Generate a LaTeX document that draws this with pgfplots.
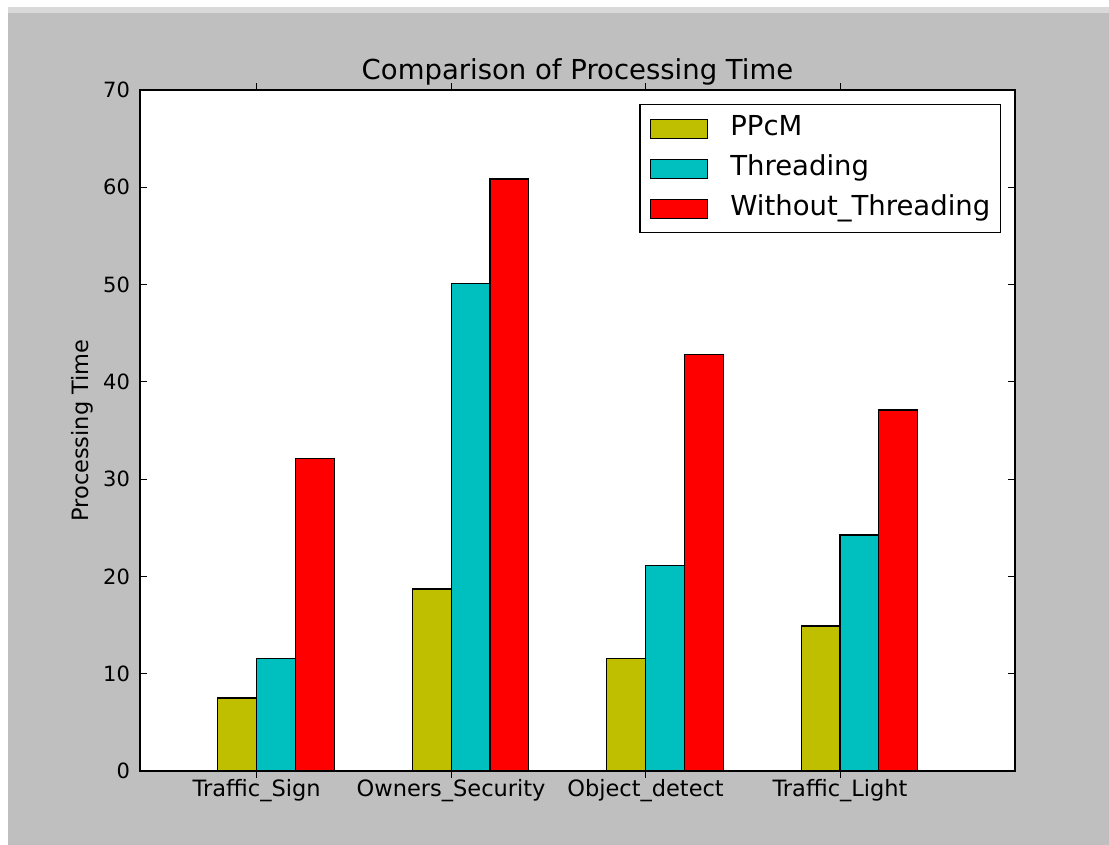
\documentclass[border=0pt]{standalone}
\usepackage{pgfplots}
\pgfplotsset{compat=1.18}
\usepackage{fontspec}
\setmainfont{DejaVu Sans}
\definecolor{mplY}{RGB}{191,191,0}
\definecolor{mplC}{RGB}{0,191,191}
\definecolor{mplR}{RGB}{255,0,0}
\definecolor{figbg}{RGB}{191,191,191}
\definecolor{figtop}{RGB}{217,217,217}
\pgfplotsset{
  mylegend/.style={legend image code/.code={%
    \draw[##1, line width=0.6pt] (0pt,-4.75pt) rectangle (28.5pt,4.75pt);
    \path (39.5pt,0pt);}},
}
\begin{document}
\begin{tikzpicture}
\path[use as bounding box] (0,0) rectangle (554.5pt,422.5pt);
\fill[white] (0,0) rectangle (554.5pt,422.5pt);
\fill[figtop] (4pt,416pt) rectangle (554.5pt,419pt);
\fill[figbg] (4pt,0) rectangle (554.5pt,416pt);
\begin{axis}[
  at={(70pt,37pt)}, anchor=south west,
  scale only axis, width=437.5pt, height=340.5pt,
  xmin=-0.4, xmax=4.1, ymin=0, ymax=70,
  axis background/.style={fill=white},
  axis line style={black, line width=1pt},
  ytick={0,10,20,30,40,50,60,70},
  xtick={0.2,1.2,2.2,3.2},
  xticklabels={Traffic\_Sign, Owners\_Security, Object\_detect, Traffic\_Light},
  tick align=inside, major tick length=3.5pt,
  tick style={black, line width=0.5pt},
  /pgf/number format/assume math mode=true,
  yticklabel style={font=\fontsize{10.5pt}{12pt}\selectfont, xshift=-1.5pt},
  xticklabel style={font=\fontsize{11.25pt}{13pt}\selectfont, anchor=base, yshift=-9.5pt},
  ylabel={Processing Time},
  ylabel style={font=\fontsize{11.25pt}{13pt}\selectfont, at={(axis description cs:-0.059,0.5)}, anchor=base},
  every axis title shift=0pt,
  title={Comparison of Processing Time},
  title style={font=\fontsize{13.75pt}{16pt}\selectfont, at={(axis description cs:0.5,1)}, anchor=base, yshift=5pt},
  legend cell align=left,
  legend style={at={(axis description cs:1,1)}, anchor=north east, xshift=-7pt, yshift=-7pt,
    draw=black, line width=0.75pt, fill=white,
    font=\fontsize{13.75pt}{16pt}\selectfont,
    inner xsep=5pt, inner ysep=5pt, row sep=6pt,
    nodes={inner sep=0pt, text height=10.5pt, text depth=3.5pt}},
  ybar, bar width=0.2,
]
\addplot[ybar, bar shift=0pt, fill=mplY, draw=black, line width=0.6pt, mylegend]
  coordinates {(0.1,7.5) (1.1,18.7) (2.1,11.55) (3.1,14.9)};
\addlegendentry{PPcM}
\addplot[ybar, bar shift=0pt, fill=mplC, draw=black, line width=0.6pt, mylegend]
  coordinates {(0.3,11.55) (1.3,50.15) (2.3,21.1) (3.3,24.25)};
\addlegendentry{Threading}
\addplot[ybar, bar shift=0pt, fill=mplR, draw=black, line width=0.6pt, mylegend]
  coordinates {(0.5,32.15) (1.5,60.85) (2.5,42.85) (3.5,37.1)};
\addlegendentry{Without\_Threading}
\end{axis}
\end{tikzpicture}
\end{document}
